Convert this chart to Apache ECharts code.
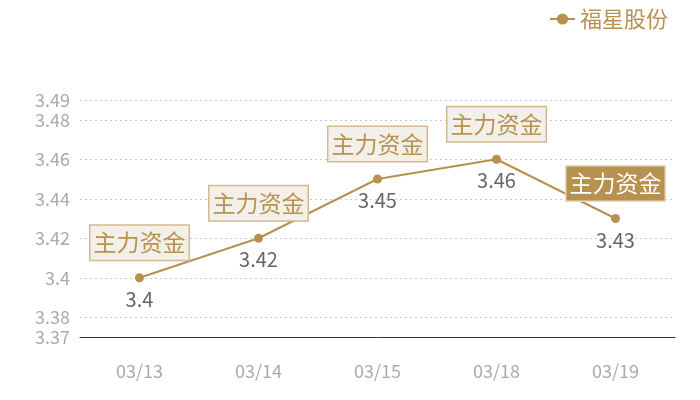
<!DOCTYPE html>
<html><head><meta charset="utf-8">
<script src="https://cdn.jsdelivr.net/npm/echarts@6/dist/echarts.min.js"></script>
<style>html,body{margin:0;padding:0;background:#fff}#c{width:700px;height:400px}</style>
</head><body><div id="c"></div>
<script>
const categories = ['03/13', '03/14', '03/15', '03/18', '03/19'];
const prices = [3.40, 3.42, 3.45, 3.46, 3.43];
const seriesName = '福星股份';
const markTexts = ['主力资金', '主力资金', '主力资金', '主力资金', '主力资金'];
const activeMark = 4;
const yMin = 3.37, yMax = 3.49;

const gold = '#b8904f';
const font = '"Noto Sans CJK SC", "Noto Sans", sans-serif';

const markData = categories.map((c, i) => ({
  coord: [c, prices[i]],
  name: markTexts[i],
  label: i === activeMark ? {
    backgroundColor: gold, color: '#fff', borderColor: '#e8d9bf'
  } : {}
}));

const chart = echarts.init(document.getElementById('c'), null, {renderer: 'canvas'});
chart.setOption({
  animation: false,
  textStyle: {fontFamily: font},
  legend: {
    right: 27, top: 3,
    data: [seriesName],
    itemWidth: 25, itemHeight: 14, itemGap: 6,
    textStyle: {color: gold, fontSize: 22, fontFamily: font}
  },
  grid: {left: 80, right: 25, top: 100, bottom: 63},
  xAxis: {
    type: 'category', data: categories, boundaryGap: true,
    axisLine: {lineStyle: {color: '#333', width: 1}},
    axisTick: {show: false},
    axisLabel: {color: '#aaa', fontSize: 18, margin: 25, fontFamily: font}
  },
  yAxis: {
    type: 'value', min: yMin, max: yMax,
    axisLine: {show: false}, axisTick: {show: false},
    axisLabel: {color: '#aaa', fontSize: 18, margin: 10, fontFamily: font},
    splitLine: {lineStyle: {color: '#ccc', type: [2, 3]}}
  },
  series: [{
    name: seriesName, type: 'line', data: prices,
    color: gold,
    symbol: 'circle', symbolSize: 9,
    lineStyle: {width: 2, color: gold},
    itemStyle: {color: gold},
    label: {show: true, position: 'bottom', distance: 7, color: '#666', fontSize: 20, fontFamily: font},
    markPoint: {
      symbol: 'circle', symbolSize: 0,
      label: {
        show: true, position: 'inside', offset: [0, -35],
        formatter: p => p.name,
        color: gold, fontSize: 23, lineHeight: 29, fontFamily: font,
        backgroundColor: '#f3efe9', borderColor: '#d4b88e', borderWidth: 1.5,
        padding: [3, 3, 2, 3]
      },
      data: markData
    }
  }]
});
</script></body></html>
